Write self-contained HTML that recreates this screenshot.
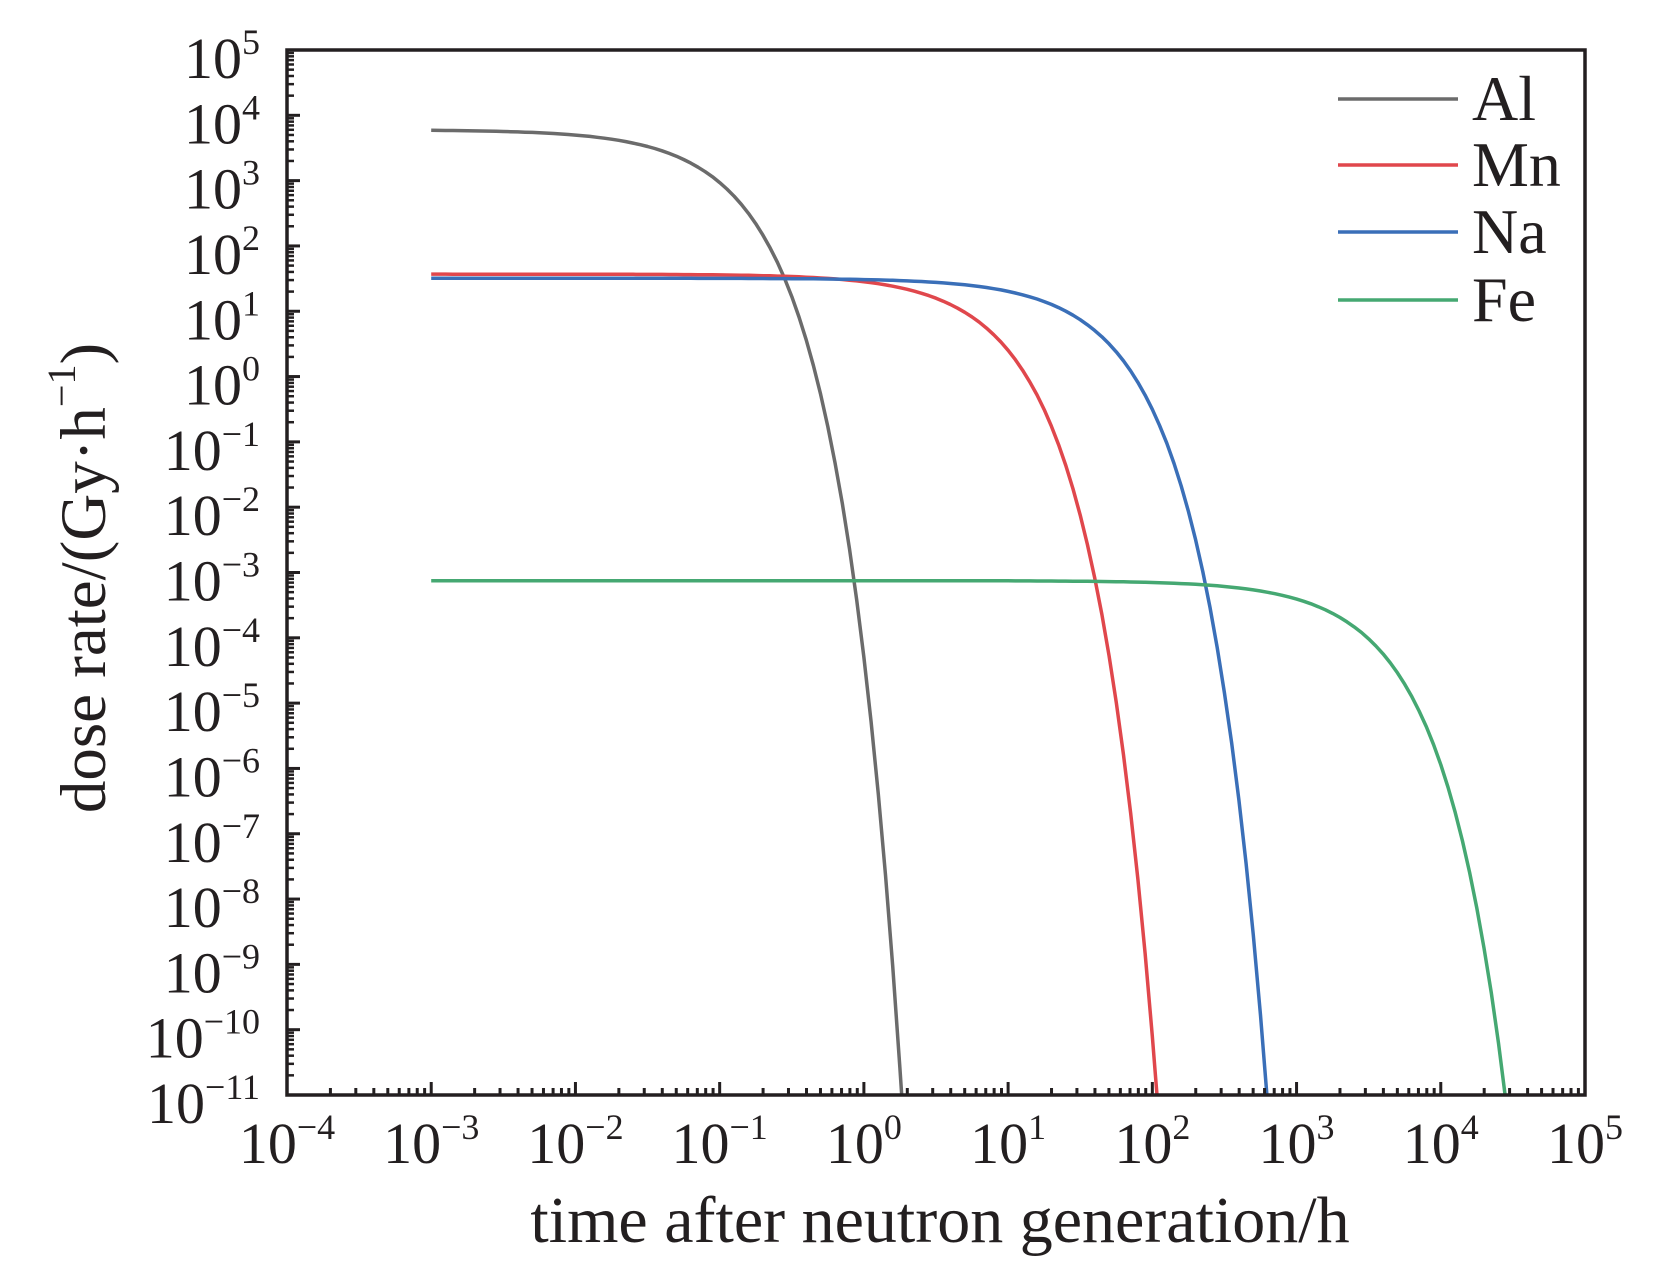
<!DOCTYPE html>
<html><head><meta charset="utf-8"><style>
html,body{margin:0;padding:0;background:#fff;}
svg{display:block;}
text{font-family:"Liberation Serif",serif;fill:#231f20;}
</style></head><body>
<svg id="s" width="1654" height="1262" viewBox="0 0 1654 1262" xmlns="http://www.w3.org/2000/svg">
<g id="g"></g>
<text x="940" y="1242" font-size="66" text-anchor="middle">time after neutron generation/h</text>
<text transform="translate(90,578) rotate(-90)" font-size="65" text-anchor="middle" dominant-baseline="middle">dose rate/(Gy·h<tspan dy="-24" font-size="40">−1</tspan><tspan dy="24">)</tspan></text>
<g font-size="64">
<line x1="1338" y1="99" x2="1458" y2="99" stroke="#6b6b6b" stroke-width="3.5"/>
<text x="1472" y="120">Al</text>
<line x1="1338" y1="165" x2="1458" y2="165" stroke="#e0474c" stroke-width="3.5"/>
<text x="1472" y="186">Mn</text>
<line x1="1338" y1="232" x2="1458" y2="232" stroke="#3a6fb8" stroke-width="3.5"/>
<text x="1472" y="253">Na</text>
<line x1="1338" y1="300" x2="1458" y2="300" stroke="#45a872" stroke-width="3.5"/>
<text x="1472" y="321">Fe</text>
</g>
</svg>
<script>
(function(){
var g=document.getElementById('g');
var L=287,R=1585,T=50,B=1095,dx=(R-L)/9,dy=(B-T)/16;
function X(t){return L+dx*(Math.log10(t)+4);}
function Y(v){return T+dy*(5-Math.log10(v));}
var h='';
var series=[[6000,18.6,'#6b6b6b'],[37,0.2686,'#e0474c'],[32,0.0462,'#3a6fb8'],[7.5e-4,6.49e-4,'#45a872']];
series.forEach(function(s){
 var pts=[];
 for(var e=-3;e<=5.0001;e+=0.05){
  var t=Math.pow(10,e),v=s[0]*Math.exp(-s[1]*t);
  if(v<1e-11){
   var tb=Math.log(s[0]/1e-11)/s[1];
   pts.push([X(tb),B]);break;}
  pts.push([X(t),Y(v)]);
 }
 var d=pts.map(function(p,i){return (i?'L':'M')+p[0].toFixed(1)+' '+p[1].toFixed(1);}).join('');
 h+='<path d="'+d+'" fill="none" stroke="'+s[2]+'" stroke-width="3.5" stroke-linejoin="round"/>';
});
h+='<rect x="'+L+'" y="'+T+'" width="'+(R-L)+'" height="'+(B-T)+'" fill="none" stroke="#231f20" stroke-width="3.5"/>';
for(var e=-4;e<=5;e++){
 var x=X(Math.pow(10,e));
 h+='<line x1="'+x+'" y1="'+B+'" x2="'+x+'" y2="'+(B-13)+'" stroke="#231f20" stroke-width="3"/>';
 if(e<5)for(var k=2;k<=9;k++){var xm=X(k*Math.pow(10,e));h+='<line x1="'+xm+'" y1="'+B+'" x2="'+xm+'" y2="'+(B-7)+'" stroke="#231f20" stroke-width="3"/>';}
 var lab=(e<0?'−'+(-e):''+e);
 h+='<text x="'+x+'" y="1163" font-size="58" text-anchor="middle">10<tspan dy="-24" font-size="36">'+lab+'</tspan></text>';
}
for(var e=-11;e<=5;e++){
 var y=Y(Math.pow(10,e));
 h+='<line x1="'+L+'" y1="'+y+'" x2="'+(L+13)+'" y2="'+y+'" stroke="#231f20" stroke-width="3"/>';
 if(e<5)for(var k=2;k<=9;k++){var ym=Y(k*Math.pow(10,e));h+='<line x1="'+L+'" y1="'+ym+'" x2="'+(L+7)+'" y2="'+ym+'" stroke="#231f20" stroke-width="2.5"/>';}
 var lab=(e<0?'−'+(-e):''+e);
 h+='<text x="260" y="'+(y+28)+'" font-size="58" text-anchor="end">10<tspan dy="-24" font-size="36">'+lab+'</tspan></text>';
}
g.innerHTML=h;
})();
</script>
</body></html>
